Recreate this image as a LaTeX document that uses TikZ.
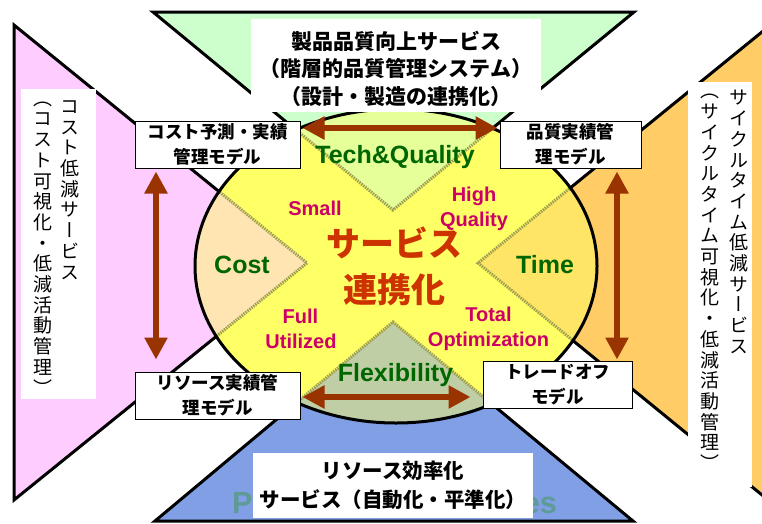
\documentclass[tikz,border=0pt]{standalone}
\usepackage{fontspec}
\setmainfont{Liberation Sans}
\newfontfamily\jp{Noto Sans CJK JP}
\newfontfamily\jpv{Noto Sans CJK JP}[RawFeature=+vert]
\usetikzlibrary{arrows.meta}
\definecolor{cgreen}{HTML}{CCFFCC}
\definecolor{cpink}{HTML}{FFCCFF}
\definecolor{corange}{HTML}{FFCC66}
\definecolor{cblue}{HTML}{809FE5}
\definecolor{cyellow}{HTML}{FFFF66}
\definecolor{carrow}{HTML}{993300}
\definecolor{cdkgreen}{HTML}{006600}
\definecolor{cmag}{HTML}{CC0066}
\definecolor{cred}{HTML}{CC3300}
\definecolor{colive}{HTML}{9E9E50}
\definecolor{cteal}{HTML}{5F9B96}
\makeatletter
\newcommand\Vcol[1]{\Vcol@#1\@nil}
\def\Vcol@#1{\ifx#1\@nil\else\hbox to 1em{\hss\vrule height .88em depth .12em width 0pt\relax#1\hss}\expandafter\Vcol@\fi}
\makeatother
\newcommand\vcolumn[1]{\vbox{\jpv\fontsize{19}{20.7}\selectfont\lineskiplimit=-100pt\Vcol{#1}}}
\begin{document}
\begin{tikzpicture}[x=1pt,y=-1pt,
  funnel/.style={draw=black, line width=3pt, line join=miter},
  inedge/.style={draw=colive, line width=3pt, dash pattern=on 1.5pt off 1pt},
  smallbox/.style={draw=black, line width=1pt, fill=white, inner sep=0pt, minimum height=47pt, align=center, font=\jp\bfseries\fontsize{17.5}{25}\selectfont},
  whitebox/.style={fill=white, inner sep=0pt},
  arr/.style={draw=carrow, line width=5.5pt, {Triangle[width=22pt,length=22pt]}-{Triangle[width=22pt,length=22pt]}},
  axisword/.style={font=\bfseries\fontsize{25}{25}\selectfont, text=cdkgreen, inner sep=0pt, anchor=base},
  goalword/.style={font=\bfseries\fontsize{20}{25}\selectfont, text=cmag, inner sep=0pt, anchor=base},
  bgpart/.style={font=\bfseries\fontsize{30.5}{30.5}\selectfont, text=cteal, inner sep=0pt},
  vcol/.style={inner sep=0pt, anchor=north},
]
\useasboundingbox (0,0) rectangle (762,523);
\clip (0,0) rectangle (762,523);
% funnels
\path[funnel, fill=cgreen] (153,12) -- (634,12) -- (393,210) -- cycle;
\path[funnel, fill=cpink] (14,25) -- (307,263) -- (14,500) -- cycle;
\path[funnel, fill=corange] (800,1) -- (478,263) -- (800,526) -- cycle;
\path[funnel, fill=cblue] (155,521) -- (393,322) -- (633,521) -- cycle;
% ellipse
\fill[cyellow] (396,266) ellipse [x radius=201pt, y radius=157pt];
\begin{scope}
  \clip (396,266) ellipse [x radius=201pt, y radius=157pt];
  \fill[cgreen, opacity=.5] (153,12) -- (634,12) -- (393,210) -- cycle;
  \fill[cpink, opacity=.5] (14,25) -- (307,263) -- (14,500) -- cycle;
  \fill[corange, opacity=.5] (800,1) -- (478,263) -- (800,526) -- cycle;
  \fill[cblue, opacity=.5] (155,521) -- (393,322) -- (633,521) -- cycle;
  \draw[inedge] (153,12) -- (393,210) -- (634,12);
  \draw[inedge] (14,25) -- (307,263) -- (14,500);
  \draw[inedge] (800,1) -- (478,263) -- (800,526);
  \draw[inedge] (155,521) -- (393,322) -- (633,521);
\end{scope}
\draw[line width=3pt] (396,266) ellipse [x radius=201pt, y radius=157pt];
% visible parts of the background word behind the bottom box
\node[bgpart, anchor=base west] (bgleft) at (232,513) {Pr};
\node[bgpart, anchor=base east] (bgright) at (557,513) {es};
% white text boxes
\node[whitebox, minimum width=290pt, minimum height=93pt] (topbox) at (396,65.5) {};
\node[font=\jp\bfseries\fontsize{21}{27.5}\selectfont, align=center, inner sep=0pt] (toptext) at (396,68.5) {製品品質向上サービス\\（階層的品質管理システム）\\（設計・製造の連携化）};
\node[whitebox, minimum width=75pt, minimum height=310pt] (leftbox) at (58.5,244) {};
\node[vcol] (leftcolA) at (70,96.5) {\vcolumn{コスト低減サービス}};
\node[vcol] (leftcolB) at (42.5,88.3) {\vcolumn{（コスト可視化・低減活動管理）}};
\node[whitebox, minimum width=64pt, minimum height=405pt] (rightbox) at (720,284.5) {};
\node[vcol] (rightcolA) at (738.5,88) {\vcolumn{サイクルタイム低減サービス}};
\node[vcol] (rightcolB) at (709.5,81) {\vcolumn{（サイクルタイム可視化・低減活動管理）}};
\node[whitebox, minimum width=280pt, minimum height=65pt, align=center, font=\jp\bfseries\fontsize{20.5}{29}\selectfont] (bottombox) at (393,485.5) {リソース効率化\\サービス（自動化・平準化）};
% model boxes
\node[smallbox, minimum width=165pt] (cost) at (217.5,144.5) {コスト予測・実績\\管理モデル};
\node[smallbox, minimum width=141pt] (qual) at (570.5,144.5) {品質実績管\\理モデル};
\node[smallbox, minimum width=165pt] (res) at (217.5,395.5) {リソース実績管\\理モデル};
\node[smallbox, minimum width=149pt] (trade) at (557.5,384.5) {トレードオフ\\モデル};
% arrows
\draw[arr] ([xshift=2pt,yshift=16.5pt]cost.east) -- ([xshift=-2pt,yshift=16.5pt]qual.west);
\draw[arr] ([xshift=-61.5pt,yshift=-3pt]cost.south) -- ([xshift=-61.5pt,yshift=12pt]res.north);
\draw[arr] ([xshift=46.5pt,yshift=-3pt]qual.south) -- ([xshift=59.5pt,yshift=1pt]trade.north);
\draw[arr] ([xshift=2pt,yshift=-1.5pt]res.east) -- ([xshift=-12pt,yshift=-12.5pt]trade.west);
% ellipse texts
\node[axisword] (tq) at (395,163) {Tech\&Quality};
\node[axisword] (costw) at (242,273) {Cost};
\node[axisword] (timew) at (545,273) {Time};
\node[axisword] (flex) at (395.5,381) {Flexibility};
\node[goalword] (small) at (315,215) {Small};
\node[goalword] (high) at (474,201) {High};
\node[goalword] (quality) at (474,226) {Quality};
\node[goalword] (full) at (300.5,323) {Full};
\node[goalword] (util) at (301,348) {Utilized};
\node[goalword] (total) at (488.5,321) {Total};
\node[goalword] (optim) at (488.5,346) {Optimization};
\node[font=\jp\bfseries\fontsize{34}{46}\selectfont, text=cred, inner sep=0pt, anchor=base] (svc1) at (394,256) {サービス};
\node[font=\jp\bfseries\fontsize{34}{46}\selectfont, text=cred, inner sep=0pt, anchor=base] (svc2) at (394,302) {連携化};
\end{tikzpicture}
\end{document}
